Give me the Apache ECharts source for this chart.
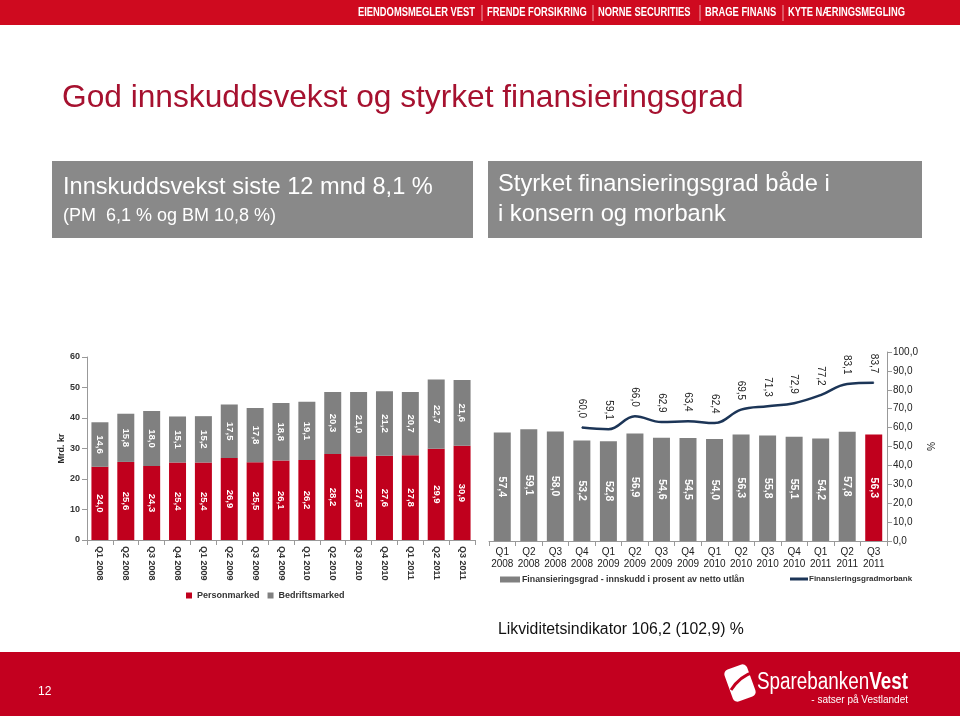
<!DOCTYPE html>
<html><head><meta charset="utf-8">
<script src="https://cdn.jsdelivr.net/npm/echarts@6/dist/echarts.min.js"></script>
<style>html,body{margin:0;padding:0;background:#fff}#c{width:960px;height:716px}</style>
</head><body><div id="c"></div>
<script>
// ---- data ----
const quarters = ['Q1 2008','Q2 2008','Q3 2008','Q4 2008','Q1 2009','Q2 2009','Q3 2009','Q4 2009','Q1 2010','Q2 2010','Q3 2010','Q4 2010','Q1 2011','Q2 2011','Q3 2011'];
const personmarked = [24.0,25.6,24.3,25.4,25.4,26.9,25.5,26.1,26.2,28.2,27.5,27.6,27.8,29.9,30.9];
const bedriftsmarked = [14.6,15.8,18.0,15.1,15.2,17.5,17.8,18.8,19.1,20.3,21.0,21.2,20.7,22.7,21.6];
const finansieringsgrad = [57.4,59.1,58.0,53.2,52.8,56.9,54.6,54.5,54.0,56.3,55.8,55.1,54.2,57.8,56.3];
const morbank = [null,null,null,60.0,59.1,66.0,62.9,63.4,62.4,69.5,71.3,72.9,77.2,83.1,83.7];
const leftAxis = {min:0, max:60, interval:10};
const rightAxis = {min:0, max:100, interval:10};
const topLinks = ['EIENDOMSMEGLER VEST','FRENDE FORSIKRING','NORNE SECURITIES','BRAGE FINANS','KYTE NÆRINGSMEGLING'];

const FF = '"Liberation Sans", Arial, sans-serif';
const RED = '#c0001d', GRAY = '#808080';
const fmt = v => Number(v).toFixed(1).replace('.', ',');
const rightCats = quarters.map(q => q.replace(' ', '\n'));
const nameBar = 'Finansieringsgrad - innskudd i prosent av netto utlån';
const nameLine = 'Finansieringsgradmorbank';

const chart = echarts.init(document.getElementById('c'), null, {renderer:'canvas'});

const linkX = [358, 487, 598, 705, 788];
const graphics = [
  {type:'rect', shape:{x:0,y:0,width:960,height:25}, style:{fill:'#cf0a1f'}, z:0},
  {type:'rect', shape:{x:0,y:652,width:960,height:64}, style:{fill:'#c3001f'}, z:0},
  {type:'rect', shape:{x:52,y:161,width:421,height:77}, style:{fill:'#898989'}},
  {type:'rect', shape:{x:488,y:161,width:434,height:77}, style:{fill:'#898989'}},
  {type:'text', x:62, y:98, style:{text:'God innskuddsvekst og styrket finansieringsgrad', font:'31.7px '+FF, fill:'#a6112f', verticalAlign:'middle'}},
  {type:'text', x:63, y:187, style:{text:'Innskuddsvekst siste 12 mnd 8,1 %', font:'23.6px '+FF, fill:'#fff', verticalAlign:'middle'}},
  {type:'text', x:63, y:216, style:{text:'(PM  6,1 % og BM 10,8 %)', font:'18px '+FF, fill:'#fff', verticalAlign:'middle'}},
  {type:'text', x:498, y:184, style:{text:'Styrket finansieringsgrad både i', font:'23.7px '+FF, fill:'#fff', verticalAlign:'middle'}},
  {type:'text', x:498, y:214, style:{text:'i konsern og morbank', font:'23.7px '+FF, fill:'#fff', verticalAlign:'middle'}},
  {type:'text', x:498, y:630, style:{text:'Likviditetsindikator 106,2 (102,9) %', font:'15.8px '+FF, fill:'#111', verticalAlign:'middle'}},
  {type:'text', x:38, y:692, style:{text:'12', font:'12px '+FF, fill:'#fff', verticalAlign:'middle'}},
  {type:'rect', x:740, y:683, rotation:0.35, shape:{x:-12,y:-17,width:24,height:34,r:5}, style:{fill:'#fff'}},
  {type:'bezierCurve', shape:{x1:731,y1:690,cpx1:740,cpy1:676,x2:754,y2:672}, style:{stroke:'#c3001f', lineWidth:3, fill:null}},
  {type:'text', x:757, y:683, scaleX:0.82, style:{text:'{a|Sparebanken}{b|Vest}', rich:{a:{fontSize:23, fontFamily:FF, color:'#fff'}, b:{fontSize:23, fontWeight:'bold', fontFamily:FF, color:'#fff'}}, fill:'#fff', verticalAlign:'middle'}},
  {type:'text', x:908, y:700, style:{text:'- satser på Vestlandet', font:'10px '+FF, fill:'#fff', align:'right', verticalAlign:'middle'}}
];
topLinks.forEach((t,i) => {
  graphics.push({type:'text', x:linkX[i], y:13, scaleX:0.78, style:{text:t, font:'bold 12px '+FF, fill:'#fff', verticalAlign:'middle'}});
  if (i>0) graphics.push({type:'rect', shape:{x:linkX[i]-5.5,y:5,width:1,height:16}, style:{fill:'#f0a0a8'}});
});

const labelInside = {show:true, position:'inside', rotate:-90, color:'#fff', fontSize:9.5, fontWeight:'bold', fontFamily:FF, formatter:p=>fmt(p.value)};

chart.setOption({
  animation:false,
  backgroundColor:'#ffffff',
  textStyle:{fontFamily:FF},
  graphic:graphics,
  grid:[
    {left:87, right:485, top:357, bottom:176},
    {left:489, right:73, top:352, bottom:175}
  ],
  legend:[
    {data:['Personmarked','Bedriftsmarked'], left:186, top:591, icon:'rect', itemWidth:6, itemHeight:6, itemGap:8, padding:0,
     textStyle:{fontSize:9, fontWeight:'bold', color:'#333', fontFamily:FF}},
    {data:[nameBar], left:500, top:575, icon:'rect', itemWidth:20, itemHeight:6, itemGap:2, padding:0,
     textStyle:{fontSize:8.8, fontWeight:'bold', color:'#333', fontFamily:FF, padding:[0,0,0,-3]}},
    {data:[nameLine], left:790, top:575, icon:'rect', itemWidth:18, itemHeight:3, padding:0,
     textStyle:{fontSize:8, fontWeight:'bold', color:'#333', fontFamily:FF, padding:[0,0,0,-4]}}
  ],
  xAxis:[
    {type:'category', gridIndex:0, data:quarters,
     axisLine:{lineStyle:{color:'#999'}}, axisTick:{show:true, lineStyle:{color:'#999'}},
     axisLabel:{rotate:-90, fontSize:9, fontWeight:'bold', color:'#333', margin:6, interval:0}},
    {type:'category', gridIndex:1, data:rightCats,
     axisLine:{lineStyle:{color:'#999'}}, axisTick:{show:true, lineStyle:{color:'#999'}},
     axisLabel:{fontSize:10, color:'#222', margin:5, interval:0, lineHeight:12}}
  ],
  yAxis:[
    {type:'value', gridIndex:0, min:leftAxis.min, max:leftAxis.max, interval:leftAxis.interval,
     axisLine:{show:true, lineStyle:{color:'#999'}}, axisTick:{show:true, lineStyle:{color:'#999'}}, splitLine:{show:false},
     axisLabel:{fontSize:9, fontWeight:'bold', color:'#333', margin:7},
     name:'Mrd. kr', nameLocation:'middle', nameGap:19, nameRotate:90, nameTextStyle:{fontSize:9, fontWeight:'bold', color:'#222'}},
    {type:'value', gridIndex:1, position:'right', min:rightAxis.min, max:rightAxis.max, interval:rightAxis.interval,
     axisLine:{show:true, lineStyle:{color:'#999'}}, axisTick:{show:true, lineStyle:{color:'#999'}}, splitLine:{show:false},
     axisLabel:{fontSize:10, color:'#222', margin:6, formatter:v=>fmt(v)},
     name:'%', nameLocation:'middle', nameGap:38, nameRotate:-90, nameTextStyle:{fontSize:10, color:'#222'}}
  ],
  series:[
    {name:'Personmarked', type:'bar', stack:'a', xAxisIndex:0, yAxisIndex:0, barWidth:17,
     itemStyle:{color:RED}, label:labelInside, data:personmarked},
    {name:'Bedriftsmarked', type:'bar', stack:'a', xAxisIndex:0, yAxisIndex:0, barWidth:17,
     itemStyle:{color:GRAY}, label:labelInside, data:bedriftsmarked},
    {name:nameBar, type:'bar', xAxisIndex:1, yAxisIndex:1, barWidth:17,
     itemStyle:{color:GRAY}, label:Object.assign({}, labelInside, {fontSize:10.5}),
     data:finansieringsgrad.map((v,i)=> i===finansieringsgrad.length-1 ? {value:v, itemStyle:{color:RED}} : v)},
    {name:nameLine, type:'line', xAxisIndex:1, yAxisIndex:1, smooth:0.4, z:5,
     symbol:'circle', symbolSize:1, itemStyle:{color:'#1c3557'}, lineStyle:{color:'#1c3557', width:2.5},
     label:{show:true, position:'top', rotate:-90, align:'right', verticalAlign:'middle', distance:9, fontSize:10, color:'#222', fontFamily:FF,
            formatter:p=>fmt(p.value)},
     data:morbank}
  ]
});
</script></body></html>
